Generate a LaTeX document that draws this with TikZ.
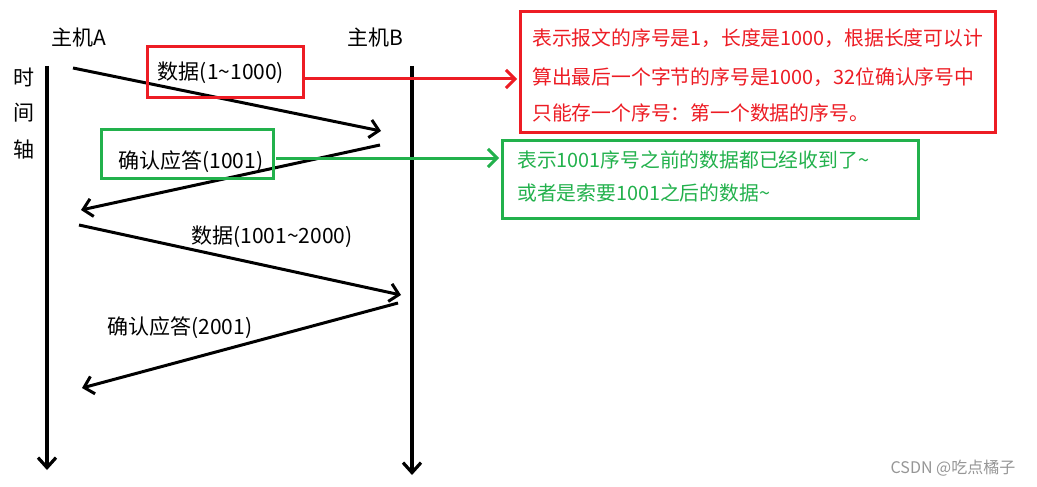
\documentclass[tikz,border=0pt]{standalone}
\usepackage{fontspec}
\setmainfont{Noto Sans CJK SC}
\usetikzlibrary{arrows.meta}
\definecolor{myred}{RGB}{237,28,36}
\definecolor{mygreen}{RGB}{34,177,76}
\definecolor{wmgray}{RGB}{150,150,150}
\newcommand{\tld}{\char"7E\relax}
\tikzset{
  lbl/.style={inner sep=0pt, font=\fontsize{21}{24}\selectfont},
  boxtxt/.style={inner sep=0pt, anchor=west, font=\fontsize{19.8}{23}\selectfont},
  msg/.style={line width=3pt, -{Straight Barb[length=9pt,width=18pt,line width=3pt]}},
  axis/.style={line width=3.2pt, -{Straight Barb[length=10pt,width=18pt,line width=3.2pt]}},
  callout/.style={line width=3pt, -{Straight Barb[length=9pt,width=18pt,line width=3pt]}},
  frame/.style={draw, line width=3pt, inner sep=0pt}
}
\begin{document}
\begin{tikzpicture}[x=1pt,y=-1pt]
\useasboundingbox[fill=white] (0,0) rectangle (1037,487);
% host labels
\node[lbl] (hA) at (79,38) {主机A};
\node[lbl] (hB) at (375,38) {主机B};
\node[lbl] (t1) at (24,77) {时};
\node[lbl] (t2) at (24,113) {间};
\node[lbl] (t3) at (24,150) {轴};
% time axes
\coordinate (aTop) at (47,66);
\coordinate (aBot) at (47,470);
\coordinate (bTop) at (412,66);
\coordinate (bBot) at (412,475);
\draw[axis] (aTop) -- (aBot);
\draw[axis] (bTop) -- (bBot);
% messages
\coordinate (m1s) at (73,68);
\coordinate (m1e) at (381,131);
\coordinate (m2s) at (380,145);
\coordinate (m2e) at (81,210);
\coordinate (m3s) at (79,225);
\coordinate (m3e) at (401,295);
\coordinate (m4s) at (398,303);
\coordinate (m4e) at (82,388);
\draw[msg] (m1s) -- (m1e);
\draw[msg] (m2s) -- (m2e);
\draw[msg] (m3s) -- (m3e);
\draw[msg] (m4s) -- (m4e);
% labels on messages
\node[frame, draw=myred, minimum width=156pt, minimum height=51pt] (rb1) at (225,72.5) {};
\node[lbl] (l1) at (221,73) {数据(1\tld 1000)};
\node[frame, draw=mygreen, minimum width=172pt, minimum height=49pt] (gb1) at (187,153.5) {};
\node[lbl] (l2) at (191,162) {确认应答(1001)};
\node[lbl] (l3) at (272,237) {数据(1001\tld 2000)};
\node[lbl] (l4) at (180,328) {确认应答(2001)};
% red explanation
\node[frame, draw=myred, minimum width=475pt, minimum height=120pt] (rb2) at (757.5,72) {};
\node[boxtxt, text=myred] (r1) at (532,38) {表示报文的序号是1，长度是1000，根据长度可以计};
\node[boxtxt, text=myred] (r2) at (532,77) {算出最后一个字节的序号是1000，32位确认序号中};
\node[boxtxt, text=myred] (r3) at (532,113) {只能存一个序号：第一个数据的序号。};
\coordinate (ra1) at (305,79);
\coordinate (ra2) at (517,79);
\draw[callout, myred] (ra1) -- (ra2);
% green explanation
\node[frame, draw=mygreen, minimum width=416pt, minimum height=78pt] (gb2) at (710,179) {};
\node[boxtxt, text=mygreen] (g1) at (517,160) {表示1001序号之前的数据都已经收到了\tld};
\node[boxtxt, text=mygreen] (g2) at (517,193) {或者是索要1001之后的数据\tld};
\coordinate (ga1) at (276,158);
\coordinate (ga2) at (499,158);
\draw[callout, mygreen] (ga1) -- (ga2);
% watermark
\node[inner sep=0pt, text=wmgray, font=\fontsize{16}{18}\selectfont] (wm) at (953,468) {CSDN @吃点橘子};
\end{tikzpicture}
\end{document}
